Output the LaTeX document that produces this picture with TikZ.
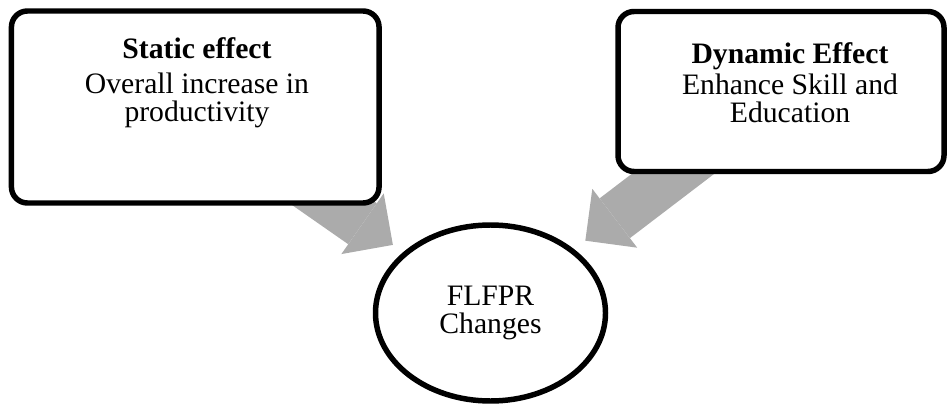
\documentclass[tikz,border=0pt]{standalone}
\usepackage{fontspec}
\setmainfont{Liberation Serif}
\usetikzlibrary{arrows.meta, backgrounds, shapes.geometric}
\definecolor{arrowgray}{RGB}{171,171,171}

\begin{document}
\begin{tikzpicture}[
    effectbox/.style={draw, line width=3.9pt, rounded corners=0.4cm, fill=white, inner sep=0pt},
    effecttext/.style={align=center, inner sep=0pt, font=\fontsize{21.1}{19.9}\selectfont},
    bigarrow/.style={arrowgray, line width=1.25cm, -{Triangle[length=0.925cm, width=1.85cm, line width=0pt]}}]
  \useasboundingbox (0,0) rectangle (23.675,10.125);

  % the two effects
  \node[effectbox, minimum width=9.19cm, minimum height=4.8cm] (static) at (4.881,7.45) {};
  \node[effecttext, anchor=north] (statictext) at (4.925,9.2) {\textbf{Static effect}\\[5.5pt] Overall increase in\\ productivity};

  \node[effectbox, minimum width=8.15cm, minimum height=4.0cm] (dynamic) at (19.525,7.8375) {};
  \node[effecttext, anchor=north] (dynamictext) at (19.75,9.065) {\textbf{Dynamic Effect}\\[2.3pt] Enhance Skill and\\ Education};

  % the outcome
  \node[effecttext, draw, ellipse, line width=3.9pt, fill=white, minimum width=5.75cm, minimum height=4.4cm] (flfpr) at (12.2625,2.3) {FLFPR\\ Changes};

  \begin{scope}[on background layer]
    \draw[bigarrow, shorten >=0.315cm] (static.center) -- (flfpr);
    \draw[bigarrow, shorten >=0.35cm] (dynamic.center) -- (flfpr);
  \end{scope}
\end{tikzpicture}
\end{document}
